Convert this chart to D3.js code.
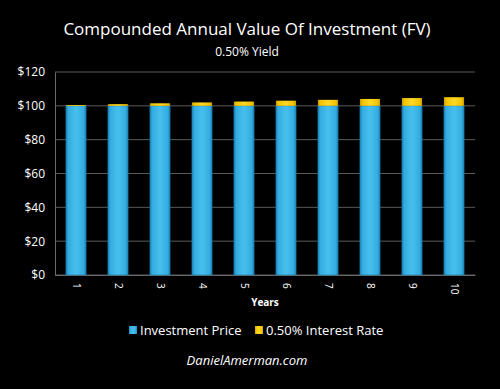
<!DOCTYPE html>
<html>
<head>
<meta charset="utf-8">
<script src="https://cdn.jsdelivr.net/npm/d3@7"></script>
<style>
  body { margin: 0; background: #000; }
  text { font-family: "Open Sans", "Noto Sans", sans-serif; fill: #fff; }
</style>
</head>
<body>
<div id="chart"></div>
<script>
// chart data
var years = ["1", "2", "3", "4", "5", "6", "7", "8", "9", "10"];
var investmentPrice = [100, 100, 100, 100, 100, 100, 100, 100, 100, 100];
var interestRate = [0.50, 1.00, 1.51, 2.02, 2.53, 3.04, 3.55, 4.07, 4.59, 5.11];
var yTicks = [0, 20, 40, 60, 80, 100, 120];

var svgWidth = 500;
var svgHeight = 389;

var margin = {
    top: 72,
    right: 25,
    bottom: 114,
    left: 55
};

var chartWidth = svgWidth - margin.left - margin.right;
var chartHeight = svgHeight - margin.top - margin.bottom;

var svg = d3.select("#chart")
    .append("svg")
    .attr("width", svgWidth)
    .attr("height", svgHeight)
    .style("background", "#000");

var defs = svg.append("defs");

function bevel(id, dark, mid, light) {
    var g = defs.append("linearGradient").attr("id", id)
        .attr("x1", "0%").attr("x2", "100%").attr("y1", "0%").attr("y2", "0%");
    g.append("stop").attr("offset", "0%").attr("stop-color", dark);
    g.append("stop").attr("offset", "12%").attr("stop-color", mid);
    g.append("stop").attr("offset", "50%").attr("stop-color", light);
    g.append("stop").attr("offset", "88%").attr("stop-color", mid);
    g.append("stop").attr("offset", "100%").attr("stop-color", dark);
}
bevel("blueBar", "#1a86b8", "#33ace0", "#48c0ee");
bevel("yellowBar", "#c99a00", "#f2c200", "#ffd928");

// title
svg.append("text")
    .attr("x", 247).attr("y", 35)
    .attr("text-anchor", "middle")
    .style("font-size", "17px")
    .text("Compounded Annual Value Of Investment (FV)");

svg.append("text")
    .attr("x", 247).attr("y", 56)
    .attr("text-anchor", "middle")
    .style("font-size", "12px")
    .text("0.50% Yield");

var chartGroup = svg.append("g")
    .attr("transform", `translate(${margin.left}, ${margin.top})`);

var xScale = d3.scaleBand()
    .domain(years)
    .range([0, chartWidth])
    .paddingInner(0.52)
    .paddingOuter(0.26);

var yScale = d3.scaleLinear()
    .domain([0, 120])
    .range([chartHeight, 0]);

// gridlines
chartGroup.append("g")
    .selectAll("line")
    .data(yTicks)
    .enter().append("line")
    .attr("x1", 0).attr("x2", chartWidth)
    .attr("y1", d => yScale(d)).attr("y2", d => yScale(d))
    .attr("stroke", "#5a5a5a")
    .attr("stroke-width", 1);

var leftAxis = d3.axisLeft(yScale)
    .tickValues(yTicks)
    .tickSize(0)
    .tickPadding(10)
    .tickFormat(d => "$" + d);

var yAxis = chartGroup.append("g").call(leftAxis);
yAxis.select(".domain").attr("stroke", "#6a6a6a");
yAxis.selectAll("text")
    .style("font-size", "12px")
    .style("font-family", "'Open Sans', sans-serif")
    .attr("fill", "#fff");

var bottomAxis = d3.axisBottom(xScale).tickSize(0).tickPadding(0);
var xAxis = chartGroup.append("g")
    .attr("transform", `translate(0,${chartHeight})`)
    .call(bottomAxis);
xAxis.select(".domain").attr("stroke", "#6a6a6a");
xAxis.selectAll("text")
    .attr("transform", "rotate(90)")
    .attr("x", 8).attr("y", 0).attr("dy", "0.35em")
    .style("text-anchor", "start")
    .style("font-size", "10px")
    .attr("fill", "#fff");

// blue bars
chartGroup.selectAll(".priceBar")
    .data(investmentPrice)
    .enter().append("rect")
    .attr("class", "priceBar")
    .attr("x", (d, i) => xScale(years[i]))
    .attr("y", d => yScale(d))
    .attr("width", xScale.bandwidth())
    .attr("height", d => chartHeight - yScale(d))
    .attr("fill", "url(#blueBar)")
    .attr("stroke", "#1677a8")
    .attr("stroke-width", 0.6);

// yellow stacked tops
chartGroup.selectAll(".rateBar")
    .data(interestRate)
    .enter().append("rect")
    .attr("class", "rateBar")
    .attr("x", (d, i) => xScale(years[i]))
    .attr("y", (d, i) => yScale(investmentPrice[i] + d))
    .attr("width", xScale.bandwidth())
    .attr("height", (d, i) => yScale(investmentPrice[i]) - yScale(investmentPrice[i] + d))
    .attr("fill", "url(#yellowBar)");

// axis title
svg.append("text")
    .attr("x", 265).attr("y", 306)
    .attr("text-anchor", "middle")
    .style("font-size", "10px")
    .style("font-weight", "bold")
    .text("Years");

// legend
var legendItems = [
    { label: "Investment Price", color: "url(#blueBar)", x: 129 },
    { label: "0.50% Interest Rate", color: "url(#yellowBar)", x: 255 }
];
var legend = svg.append("g");
legend.selectAll("rect")
    .data(legendItems)
    .enter().append("rect")
    .attr("x", d => d.x).attr("y", 326)
    .attr("width", 8).attr("height", 8)
    .attr("fill", d => d.color);
legend.selectAll("text")
    .data(legendItems)
    .enter().append("text")
    .attr("x", d => d.x + 11).attr("y", 335)
    .style("font-size", "13px")
    .text(d => d.label);

svg.append("text")
    .attr("x", 247).attr("y", 365)
    .attr("text-anchor", "middle")
    .style("font-size", "13px")
    .style("font-style", "italic")
    .text("DanielAmerman.com");
</script>
</body>
</html>
